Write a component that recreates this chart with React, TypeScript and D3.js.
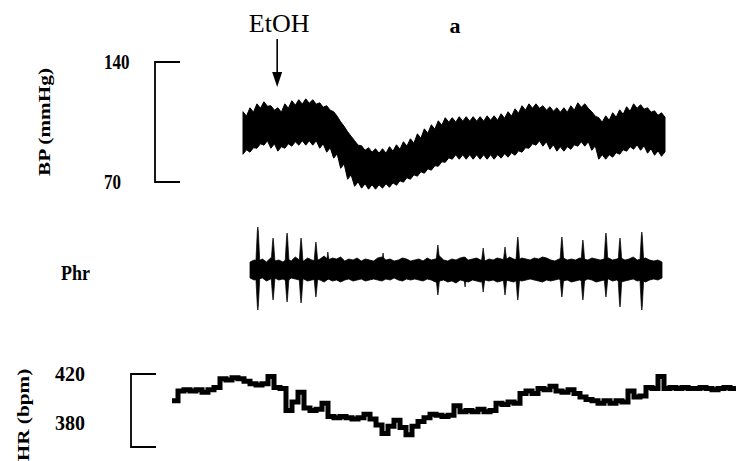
import React from 'react';
import * as d3 from 'd3';

const W = 736;
const H = 461;
const font = "'Liberation Serif', 'Times New Roman', serif";

// BP trace (mmHg): upper / lower edge of the pulsatile band, peak-valley pairs per ripple
const bpUpper = [
  111.0, 108.4, 113.3, 110.7, 115.6, 113.0, 116.8, 114.2, 114.5, 111.9, 113.3, 110.7,
  115.6, 113.0, 117.4, 114.8, 118.0, 115.4, 118.5, 115.9, 118.0, 115.4, 116.2, 113.6,
  114.5, 111.9, 111.0, 108.4, 105.1, 102.5, 99.3, 96.7, 94.1, 91.5, 91.1, 88.5,
  90.0, 87.4, 89.4, 86.8, 89.4, 86.8, 90.6, 88.0, 91.7, 89.1, 93.5, 90.9,
  95.2, 92.6, 98.1, 95.5, 101.0, 98.4, 103.4, 100.8, 105.7, 103.1, 107.5, 104.9,
  107.5, 104.9, 108.1, 105.5, 108.1, 105.5, 108.1, 105.5, 108.1, 105.5, 108.6, 106.0,
  108.6, 106.0, 109.8, 107.2, 111.0, 108.4, 112.7, 110.1, 114.5, 111.9, 115.6, 113.0,
  115.6, 113.0, 114.5, 111.9, 113.9, 111.3, 113.3, 110.7, 113.3, 110.7, 114.5, 111.9,
  116.2, 113.6, 115.6, 113.0, 111.0, 108.4, 107.5, 104.9, 108.6, 106.0, 110.4, 107.8,
  112.1, 109.5, 113.9, 111.3, 115.6, 113.0, 115.1, 112.5, 113.3, 110.7, 111.5, 108.9,
  110.4, 107.8,
];
const bpLower = [
  86.2, 88.8, 87.4, 90.0, 89.7, 92.3, 91.5, 94.1, 89.7, 92.3, 88.0, 90.6,
  89.7, 92.3, 90.9, 93.5, 91.5, 94.1, 91.5, 94.1, 91.5, 94.1, 89.7, 92.3,
  87.4, 90.0, 83.9, 86.5, 78.0, 80.6, 71.6, 74.2, 67.5, 70.1, 66.4, 69.0,
  65.8, 68.4, 65.8, 68.4, 66.4, 69.0, 66.9, 69.5, 68.1, 70.7, 69.9, 72.5,
  71.6, 74.2, 73.4, 76.0, 75.1, 77.7, 76.9, 79.5, 79.2, 81.8, 81.5, 84.1,
  83.3, 85.9, 83.3, 85.9, 83.3, 85.9, 83.3, 85.9, 83.3, 85.9, 83.3, 85.9,
  83.3, 85.9, 83.9, 86.5, 84.5, 87.1, 85.6, 88.2, 87.4, 90.0, 89.7, 92.3,
  91.5, 94.1, 90.9, 93.5, 89.1, 91.7, 88.0, 90.6, 88.0, 90.6, 89.1, 91.7,
  90.9, 93.5, 90.9, 93.5, 88.5, 91.1, 83.3, 85.9, 83.3, 85.9, 84.5, 87.1,
  86.2, 88.8, 88.0, 90.6, 89.1, 91.7, 88.5, 91.1, 86.8, 89.4, 85.6, 88.2,
  85.0, 87.6,
];
const bpScaleBar = [140, 70];
const etohAt = 9.8; // BP sample index of the EtOH injection

// Phrenic nerve activity (arbitrary units), band edges sampled once per time unit (0..100)
const phrUpper = [
  8, 10, 9, 11, 8, 12, 9, 10, 8, 11, 9, 13, 10, 9, 12, 10, 9, 11, 14, 10,
  12, 11, 13, 9, 11, 10, 12, 9, 11, 10, 9, 12, 13, 10, 11, 9, 10, 12, 11, 9,
  10, 11, 9, 12, 10, 11, 14, 10, 9, 11, 10, 12, 13, 10, 11, 12, 10, 9, 11, 10,
  12, 11, 10, 13, 11, 10, 12, 11, 10, 12, 11, 13, 12, 10, 9, 11, 12, 10, 11, 10,
  12, 11, 10, 12, 11, 10, 11, 12, 10, 11, 12, 10, 11, 13, 10, 11, 12, 10, 9, 10, 8,
];
const phrLower = [
  -8, -10, -9, -8, -11, -9, -8, -10, -9, -11, -8, -9, -10, -9, -11, -10, -9, -10, -12, -9,
  -11, -10, -12, -10, -9, -11, -10, -9, -11, -10, -9, -10, -11, -9, -10, -8, -10, -11, -9, -10,
  -9, -10, -11, -9, -10, -12, -11, -10, -12, -11, -13, -10, -11, -12, -10, -11, -12, -10, -11, -10,
  -12, -11, -10, -11, -12, -10, -11, -10, -9, -10, -11, -12, -10, -11, -10, -9, -11, -10, -12, -11,
  -10, -11, -9, -10, -12, -11, -10, -9, -11, -10, -12, -11, -10, -9, -11, -10, -12, -10, -9, -10, -8,
];
const phrSpikeT = [1.9, 5.6, 9.0, 12.4, 16.0, 18.9, 32.3, 45.6, 52.2, 56.6, 61.9, 65.0, 75.7, 80.8, 86.4, 89.8, 95.1];
const phrSpikeUp = [43, 32, 37, 32, 28, 18, 17, 25, 13, 22, 23, 33, 33, 30, 37, 32, 38];
const phrSpikeDown = [40, 30, 32, 33, 27, 10, 10, 25, 17, 22, 25, 30, 27, 30, 27, 37, 40];

// HR (bpm), stepped trace
const hrValues = [
  398, 406, 407, 406, 407, 405, 407, 409, 416, 415, 417, 416, 414, 412, 411, 412, 418, 409, 408, 390,
  397, 405, 392, 390, 391, 396, 385, 384, 385, 384, 383, 384, 387, 383, 378, 371, 377, 382, 376, 370,
  377, 381, 384, 387, 386, 385, 386, 394, 389, 390, 389, 391, 389, 390, 396, 395, 397, 396, 404, 406,
  404, 408, 407, 410, 406, 405, 407, 404, 401, 399, 398, 396, 398, 396, 398, 397, 406, 401, 402, 409,
  408, 418, 408, 409, 408, 409, 408, 408, 409, 408, 407, 408, 409, 408, 408,
];
const hrTicks = [420, 380];
const hrScaleBar = [420, 360];

export default function App() {
  const xBP = d3.scaleLinear().domain([0, bpUpper.length - 1]).range([243, 665]);
  const yBP = d3.scaleLinear().domain([70, 140]).range([182, 62]);
  const bpArea = d3
    .area<number>()
    .x((_, i) => xBP(i))
    .y0((_, i) => yBP(bpLower[i]))
    .y1((d) => yBP(d));

  const xPhr = d3.scaleLinear().domain([0, phrUpper.length - 1]).range([250, 662]);
  const yPhr = d3.scaleLinear().domain([-50, 50]).range([320, 220]);
  const phrArea = d3
    .area<number>()
    .x((_, i) => xPhr(i))
    .y0((_, i) => yPhr(phrLower[i]))
    .y1((d) => yPhr(d));
  const spikeLine = d3
    .line<[number, number]>()
    .x((d) => xPhr(d[0]))
    .y((d) => yPhr(d[1]));

  const xHR = d3.scaleLinear().domain([0, hrValues.length - 1]).range([172, 736]);
  const yHR = d3.scaleLinear().domain([360, 420]).range([447, 374]);
  const hrLine = d3
    .line<number>()
    .x((_, i) => xHR(i))
    .y((d) => yHR(d))
    .curve(d3.curveStepAfter);

  const ax = xBP(etohAt);
  const bpMid = (yBP(bpScaleBar[0]) + yBP(bpScaleBar[1])) / 2;

  return (
    <svg
      width={W}
      height={H}
      viewBox={`0 0 ${W} ${H}`}
      style={{ position: 'absolute', left: 0, top: 0, background: '#fff' }}
    >
      <rect width={W} height={H} fill="#fff" />

      {/* header */}
      <text x={ax + 2} y={32} textAnchor="middle" fontFamily={font} fontSize={26} fill="#000">
        EtOH
      </text>
      <line x1={ax} x2={ax} y1={39} y2={74} stroke="#000" strokeWidth={1.6} />
      <path d={`M${ax - 5},72 L${ax + 5},72 L${ax},87 Z`} fill="#000" />
      <text x={455} y={33} textAnchor="middle" fontFamily={font} fontSize={22} fontWeight="bold">
        a
      </text>

      {/* BP panel */}
      <text
        transform={`translate(44,${bpMid}) rotate(-90) scale(1.25,1)`}
        textAnchor="middle"
        dominantBaseline="central"
        fontFamily={font}
        fontSize={17}
        fontWeight="bold"
      >
        BP (mmHg)
      </text>
      {bpScaleBar.map((v) => (
        <text
          key={v}
          transform={`translate(104,${yBP(v)}) scale(1,1.2)`}
          dominantBaseline="central"
          fontFamily={font}
          fontSize={17}
          fontWeight="bold"
        >
          {v}
        </text>
      ))}
      <path
        d={`M180,${yBP(bpScaleBar[0])} H155 V${yBP(bpScaleBar[1])} H180`}
        fill="none"
        stroke="#000"
        strokeWidth={1.8}
      />
      <path d={bpArea(bpUpper) ?? ''} fill="#000" stroke="#000" strokeWidth={1} strokeLinejoin="round" />

      {/* Phr panel */}
      <text
        transform="translate(61,273) scale(1,1.15)"
        dominantBaseline="central"
        fontFamily={font}
        fontSize={18}
        fontWeight="bold"
      >
        Phr
      </text>
      <path d={phrArea(phrUpper) ?? ''} fill="#000" stroke="#000" strokeWidth={0.8} />
      {phrSpikeT.map((t, i) => (
        <g key={t}>
          <path
            d={spikeLine([[t - 0.5, 6], [t - 0.12, phrSpikeUp[i] - 4], [t, phrSpikeUp[i]], [t + 0.12, phrSpikeUp[i] - 4], [t + 0.5, 6]]) ?? ''}
            fill="#000"
            stroke="#000"
            strokeWidth={0.7}
          />
          <path
            d={spikeLine([[t - 0.5, -6], [t - 0.12, -phrSpikeDown[i] + 4], [t, -phrSpikeDown[i]], [t + 0.12, -phrSpikeDown[i] + 4], [t + 0.5, -6]]) ?? ''}
            fill="#000"
            stroke="#000"
            strokeWidth={0.7}
          />
        </g>
      ))}

      {/* HR panel */}
      <text
        transform={`translate(23,415) rotate(-90) scale(1.25,1)`}
        textAnchor="middle"
        dominantBaseline="central"
        fontFamily={font}
        fontSize={17}
        fontWeight="bold"
      >
        HR (bpm)
      </text>
      {hrTicks.map((v) => (
        <text key={v} x={55} y={yHR(v)} dominantBaseline="central" fontFamily={font} fontSize={20} fontWeight="bold">
          {v}
        </text>
      ))}
      <path
        d={`M156,${yHR(hrScaleBar[0])} H131 V${yHR(hrScaleBar[1])} H156`}
        fill="none"
        stroke="#000"
        strokeWidth={1.8}
      />
      <path d={hrLine(hrValues) ?? ''} fill="none" stroke="#000" strokeWidth={5} />
    </svg>
  );
}
